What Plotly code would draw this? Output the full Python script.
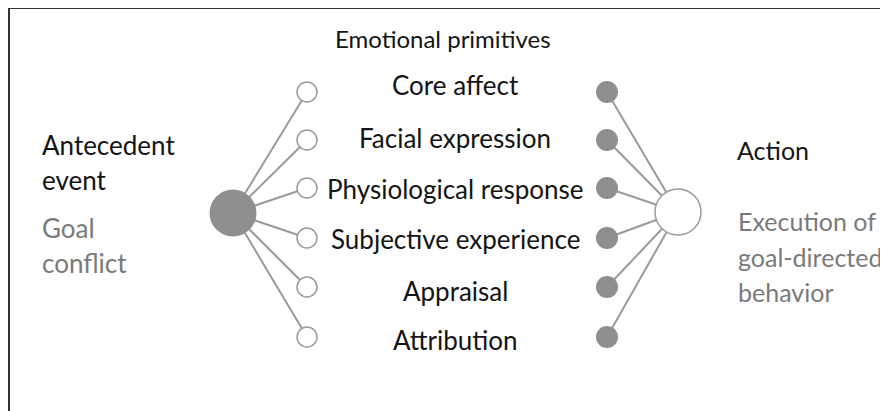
import plotly.graph_objects as go

# Diagram content
primitives = ["Core affect", "Facial expression", "Physiological response",
              "Subjective experience", "Appraisal", "Attribution"]
header = "Emotional primitives"
left_title = ["Antecedent", "event"]
left_sub = ["Goal", "conflict"]
right_title = ["Action"]
right_sub = ["Execution of", "goal-directed", "behavior"]

# Layout (pixel-like coordinate system; page body has an 8px margin)
W, H = 888, 411
OFF = 8
left_hub = (233, 213)
right_hub = (678, 212)
left_node_x = 307
right_node_x = 607
node_y = [92, 140, 188, 238, 287, 337]
label_x = 455
label_y = [85, 138, 189, 239, 291, 340]

FONT = "Lato, 'Open Sans', sans-serif"
LINE = "#9a9a9a"
FILL = "#8f8f90"

fig = go.Figure()

# connecting lines
for y in node_y:
    fig.add_trace(go.Scatter(x=[left_hub[0], left_node_x], y=[left_hub[1], y], mode="lines",
                             line=dict(color=LINE, width=2), hoverinfo="skip", showlegend=False))
    fig.add_trace(go.Scatter(x=[right_node_x, right_hub[0]], y=[y, right_hub[1]], mode="lines",
                             line=dict(color=LINE, width=2), hoverinfo="skip", showlegend=False))

# left small open nodes
fig.add_trace(go.Scatter(x=[left_node_x]*len(node_y), y=node_y, mode="markers",
                         marker=dict(size=20, color="white", line=dict(color=LINE, width=1.5)),
                         hoverinfo="skip", showlegend=False))
# right small filled nodes
fig.add_trace(go.Scatter(x=[right_node_x]*len(node_y), y=node_y, mode="markers",
                         marker=dict(size=22, color=FILL, line=dict(color=FILL, width=0)),
                         hoverinfo="skip", showlegend=False))
# hubs
fig.add_trace(go.Scatter(x=[left_hub[0]], y=[left_hub[1]], mode="markers",
                         marker=dict(size=47, color=FILL, line=dict(width=0)),
                         hoverinfo="skip", showlegend=False))
fig.add_trace(go.Scatter(x=[right_hub[0]], y=[right_hub[1]], mode="markers",
                         marker=dict(size=46, color="white", line=dict(color=LINE, width=1.5)),
                         hoverinfo="skip", showlegend=False))

ann = []
def txt(x, y, s, color="#141414", size=26, anchor="center"):
    ann.append(dict(x=x, y=y, text=s, showarrow=False, xanchor=anchor, yanchor="middle",
                    font=dict(family=FONT, size=size, color=color)))

txt(443, 38, header, size=24)
for ly, lab in zip(label_y, primitives):
    txt(label_x, ly, lab)

for i, s in enumerate(left_title):
    txt(40, 145 + 35*i, s, size=26, anchor="left")
for i, s in enumerate(left_sub):
    txt(40, 228 + 35*i, s, size=26, color="#7a7a7a", anchor="left")
for i, s in enumerate(right_title):
    txt(735, 150 + 35*i, s, size=25, anchor="left")
for i, s in enumerate(right_sub):
    txt(736, 221 + 35.5*i, s, size=25, color="#7a7a7a", anchor="left")

shapes = [
    dict(type="line", x0=9, y0=8, x1=9, y1=H + 5, line=dict(color="#333333", width=2)),
    dict(type="line", x0=8, y0=8, x1=W + 5, y1=8, line=dict(color="#333333", width=2)),
]

fig.update_layout(
    width=W - OFF, height=H - OFF, margin=dict(l=0, r=0, t=0, b=0),
    paper_bgcolor="white", plot_bgcolor="white",
    xaxis=dict(range=[OFF, W], visible=False, fixedrange=True),
    yaxis=dict(range=[H, OFF], visible=False, fixedrange=True),
    annotations=ann, shapes=shapes, showlegend=False,
)
fig.write_html("out.html")
